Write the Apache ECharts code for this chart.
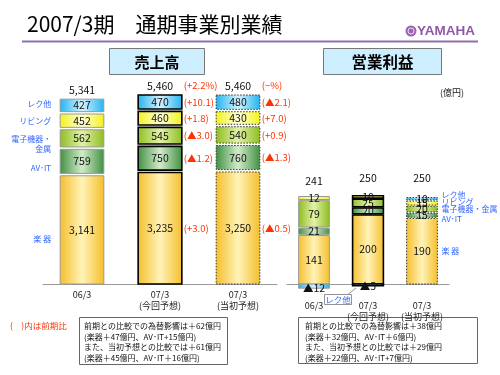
<!DOCTYPE html>
<html><head><meta charset="utf-8">
<script src="https://cdn.jsdelivr.net/npm/echarts@6/dist/echarts.min.js"></script>
<style>html,body{margin:0;padding:0;background:#fff}#c{width:500px;height:375px}</style>
</head><body><div id="c"></div><script>
// ---------- data ----------
const categories = ['06/3', '07/3\n(今回予想)', '07/3\n(当初予想)'];
const segmentNames = ['楽 器', 'AV･IT', '電子機器・金属', 'リビング', 'レク他'];
const salesSegmentNames = ['楽 器', 'AV･IT', '電子機器・\n金属', 'リビング', 'レク他'];
// 売上高 (億円), stacked bottom -> top
const salesMusic = [3141, 3235, 3250];
const salesAVIT = [759, 750, 760];
const salesElectronics = [562, 545, 540];
const salesLiving = [452, 460, 430];
const salesRecreation = [427, 470, 480];
const salesTotal = [5341, 5460, 5460];
// 前期比 (%) annotations, order: 楽器, AV･IT, 電子機器・金属, リビング, レク他
const salesChangeForecast = ['(+3.0)', '(▲1.2)', '(▲3.0)', '(+1.8)', '(+10.1)'];
const salesChangePlan = ['(▲0.5)', '(▲1.3)', '(+0.9)', '(+7.0)', '(▲2.1)'];
const salesTotalChange = ['', '(+2.2%)', '(−%)'];
// 営業利益 (億円)
const profitMusic = [141, 200, 190];
const profitAVIT = [21, 20, 15];
const profitElectronics = [79, 25, 20];
const profitLiving = [12, 10, 15];
const profitRecreation = [-12, -5, 10];
const profitTotal = [241, 250, 250];
const noteLeft = ['前期との比較での為替影響は＋62億円', '(楽器＋47億円、AV･IT+15億円)', 'また、当初予想との比較では＋61億円', '(楽器＋45億円、AV･IT＋16億円)'];
const noteRight = ['前期との比較での為替影響は＋38億円', '(楽器＋32億円、AV･IT＋6億円)', 'また、当初予想との比較では＋29億円', '(楽器＋22億円、AV･IT+7億円)'];

// ---------- style ----------
const FONT = '"Noto Sans CJK JP", "Noto Sans", sans-serif';
const BLUE = '#3366FF', RED = '#FF3300';
const segColors = [
  {edge: '#F5BE2A', mid: '#FFF3B8'},
  {edge: '#3F8F3F', mid: '#D2EACB'},
  {edge: '#8CBD1E', mid: '#E3F1A8'},
  {edge: '#F2F21A', mid: '#FFFFD6'},
  {edge: '#22B3EE', mid: '#D4F2FF'}
];
const catStrokes = [
  {stroke: '#9a9a9a', lineWidth: 1, lineDash: null},
  {stroke: '#000000', lineWidth: 1.6, lineDash: null},
  {stroke: '#333333', lineWidth: 1, lineDash: [1.5, 1.5]}
];

function buildItems(segArrays, totals) {
  const items = [];
  for (let c = 0; c < categories.length; c++) {
    let pos = 0, neg = 0;
    segArrays.forEach((arr, s) => {
      const v = arr[c];
      let start, end;
      if (v >= 0) { start = pos; end = pos + v; pos = end; }
      else { start = neg; end = neg + v; neg = end; }
      items.push({value: [c, start, end, s], seg: s, raw: v, kind: 'seg'});
    });
    items.push({value: [c, totals[c], totals[c], -1], total: totals[c], kind: 'total'});
  }
  return items;
}

function txt(x, y, text, size, fill, align, weight, lh) {
  return {type: 'text', x: x, y: y, silent: true, z2: 10,
    style: {text: text, font: (weight || 'normal') + ' ' + size + 'px ' + FONT, fill: fill,
      align: align || 'center', verticalAlign: 'middle', textAlign: align || 'center', textVerticalAlign: 'middle',
      lineHeight: lh || Math.round(size * 1.2)}};
}

function makeRender(items, cfg) {
  return function (params, api) {
    const it = items[params.dataIndex];
    const c = api.value(0);
    const a = api.value(1), b = api.value(2);
    const pHi = api.coord([c, Math.max(a, b)]);
    const pLo = api.coord([c, Math.min(a, b)]);
    const bw = api.size([1, 0])[0] * cfg.barRatio;
    const cx = pHi[0];
    const children = [];
    if (it.kind === 'total') {
      const ty = pHi[1] - cfg.totalOffset;
      children.push(txt(cx, ty, it.total.toLocaleString('en-US'), 10.5, '#111'));
      const tc = cfg.totalChanges && cfg.totalChanges[c];
      if (tc) children.push(txt(cx + bw / 2 + 2, ty, tc, 9.5, RED, 'left'));
      return {type: 'group', children: children};
    }
    const neg = it.raw < 0;
    let y0 = pHi[1], y1 = pLo[1];
    if (!neg) { y0 += cfg.gap; if (Math.min(a, b) !== 0) y1 -= cfg.gap; }
    if (y1 - y0 < 1) y1 = y0 + 1;
    const st = catStrokes[c];
    const col = segColors[it.seg];
    children.push({type: 'rect', shape: {x: cx - bw / 2, y: y0, width: bw, height: y1 - y0},
      style: {fill: new echarts.graphic.LinearGradient(0, 0, 1, 0, [
        {offset: 0, color: col.edge}, {offset: 0.5, color: col.mid}, {offset: 1, color: col.edge}]),
        stroke: st.stroke, lineWidth: st.lineWidth, lineDash: st.lineDash}});
    const my = (y0 + y1) / 2;
    children.push(txt(cx, my + (neg ? 1.5 : 0), (neg ? '▲' : '') + Math.abs(it.raw).toLocaleString('en-US'), 10.5, '#111'));
    const ch = cfg.changes[c];
    if (ch) children.push(txt(cx + bw / 2 + 2, my, ch[it.seg], 9.5, RED, 'left'));
    if (c === cfg.nameCat) {
      const dy = cfg.nameDy[it.seg];
      if (cfg.nameSide === 'left') children.push(txt(cx - bw / 2 - 9, my + dy, cfg.names[it.seg], 8, BLUE, 'right', 'normal', 10));
      else children.push(txt(cx + bw / 2 + 4, my + dy, cfg.names[it.seg], 8, BLUE, 'left'));
    }
    return {type: 'group', children: children};
  };
}

const salesItems = buildItems([salesMusic, salesAVIT, salesElectronics, salesLiving, salesRecreation], salesTotal);
const profitItems = buildItems([profitMusic, profitAVIT, profitElectronics, profitLiving, profitRecreation], profitTotal);

const chart = echarts.init(document.getElementById('c'), null, {renderer: 'canvas'});

const axisCommon = {
  type: 'category', data: categories,
  axisLine: {lineStyle: {color: '#999', width: 1}},
  axisTick: {inside: true, length: 4, lineStyle: {color: '#999'}},
  axisLabel: {fontSize: 9, color: '#222', lineHeight: 11, fontFamily: FONT, interval: 0, hideOverlap: false}
};

function noteText(x, y, lines) {
  return {type: 'text', x: x, y: y, silent: true,
    style: {text: lines.join('\n'), font: '8px ' + FONT, fill: '#111', lineHeight: 10.5,
      align: 'left', verticalAlign: 'top', textAlign: 'left', textVerticalAlign: 'top'}};
}

chart.setOption({
  animation: false,
  backgroundColor: '#fff',
  grid: [
    {left: 43, width: 234, top: 75, height: 209, containLabel: false, outerBoundsMode: 'none'},
    {left: 287, width: 162, top: 82, height: 209, containLabel: false, outerBoundsMode: 'none'}
  ],
  xAxis: [
    Object.assign({}, axisCommon, {gridIndex: 0, axisLabel: Object.assign({}, axisCommon.axisLabel, {margin: 5})}),
    Object.assign({}, axisCommon, {gridIndex: 1, axisLabel: Object.assign({}, axisCommon.axisLabel, {margin: 9})})
  ],
  yAxis: [
    {gridIndex: 0, type: 'value', min: 0, max: 6000, show: false},
    {gridIndex: 1, type: 'value', min: -20, max: 580, show: false}
  ],
  series: [
    {type: 'custom', xAxisIndex: 0, yAxisIndex: 0, clip: false,
      encode: {x: 0, y: [1, 2]},
      data: salesItems.map(d => d.value),
      renderItem: makeRender(salesItems, {barRatio: 0.56, gap: 1.2, totalOffset: 8,
        totalChanges: salesTotalChange, changes: [null, salesChangeForecast, salesChangePlan],
        nameCat: 0, nameSide: 'left', names: salesSegmentNames, nameDy: [9, 6.5, 6, 0, -1]})},
    {type: 'custom', xAxisIndex: 1, yAxisIndex: 1, clip: false,
      encode: {x: 0, y: [1, 2]},
      data: profitItems.map(d => d.value),
      renderItem: makeRender(profitItems, {barRatio: 0.57, gap: 0.6, totalOffset: 19,
        totalChanges: null, changes: [null, null, null],
        nameCat: 2, nameSide: 'right', names: segmentNames, nameDy: [0, 4, 0, -1, -4]})}
  ],
  graphic: [
    {type: 'text', x: 27, y: 24, silent: true,
      style: {text: '2007/3期　通期事業別業績', font: '21px ' + FONT, fill: '#000',
        align: 'left', verticalAlign: 'middle', textAlign: 'left', textVerticalAlign: 'middle'}},
    {type: 'line', silent: true, shape: {x1: 22, y1: 41.5, x2: 478, y2: 41.5}, style: {stroke: '#9070B0', lineWidth: 2}},
    {type: 'circle', silent: true, shape: {cx: 411, cy: 31, r: 5.5}, style: {fill: '#9966B3'}},
    {type: 'circle', silent: true, shape: {cx: 411, cy: 31, r: 3}, style: {fill: 'none', stroke: '#fff', lineWidth: 0.8}},
    {type: 'text', x: 417, y: 31.5, silent: true,
      style: {text: 'YAMAHA', font: 'bold 13.5px "Liberation Sans", Arial, sans-serif', fill: '#8E5AA8',
        align: 'left', verticalAlign: 'middle', textAlign: 'left', textVerticalAlign: 'middle'}},
    {type: 'rect', silent: true, shape: {x: 109.5, y: 48.5, width: 95, height: 26}, style: {fill: '#CCEEFF', stroke: '#777', lineWidth: 1}},
    {type: 'text', x: 157, y: 62, silent: true,
      style: {text: '売上高', font: 'bold 15px ' + FONT, fill: '#000', align: 'center', verticalAlign: 'middle', textAlign: 'center', textVerticalAlign: 'middle'}},
    {type: 'rect', silent: true, shape: {x: 323.5, y: 48.5, width: 118, height: 26}, style: {fill: '#CCEEFF', stroke: '#777', lineWidth: 1}},
    {type: 'text', x: 382.5, y: 62, silent: true,
      style: {text: '営業利益', font: 'bold 15.5px ' + FONT, fill: '#000', align: 'center', verticalAlign: 'middle', textAlign: 'center', textVerticalAlign: 'middle'}},
    {type: 'text', x: 440, y: 93, silent: true,
      style: {text: '(億円)', font: '9px ' + FONT, fill: '#222', align: 'left', verticalAlign: 'middle', textAlign: 'left', textVerticalAlign: 'middle'}},
    // callout for negative レク他
    {type: 'line', silent: true, shape: {x1: 348, y1: 294.5, x2: 356, y2: 288}, style: {stroke: '#777', lineWidth: 0.8}},
    {type: 'rect', silent: true, shape: {x: 324.5, y: 294.5, width: 27, height: 10}, style: {fill: '#fff', stroke: '#777', lineWidth: 0.8}},
    {type: 'text', x: 338, y: 299.5, silent: true,
      style: {text: 'レク他', font: '8.5px ' + FONT, fill: BLUE, align: 'center', verticalAlign: 'middle', textAlign: 'center', textVerticalAlign: 'middle'}},
    // footer
    {type: 'text', x: 10, y: 326, silent: true,
      style: {text: '(　)内は前期比', font: '8.5px ' + FONT, fill: RED, align: 'left', verticalAlign: 'middle', textAlign: 'left', textVerticalAlign: 'middle'}},
    {type: 'rect', silent: true, shape: {x: 79.5, y: 317.5, width: 148, height: 47}, style: {fill: 'none', stroke: '#666', lineWidth: 1}},
    noteText(84, 321, noteLeft),
    {type: 'rect', silent: true, shape: {x: 298.5, y: 317.5, width: 179, height: 46}, style: {fill: 'none', stroke: '#666', lineWidth: 1}},
    noteText(305, 321, noteRight)
  ]
});
</script></body></html>
